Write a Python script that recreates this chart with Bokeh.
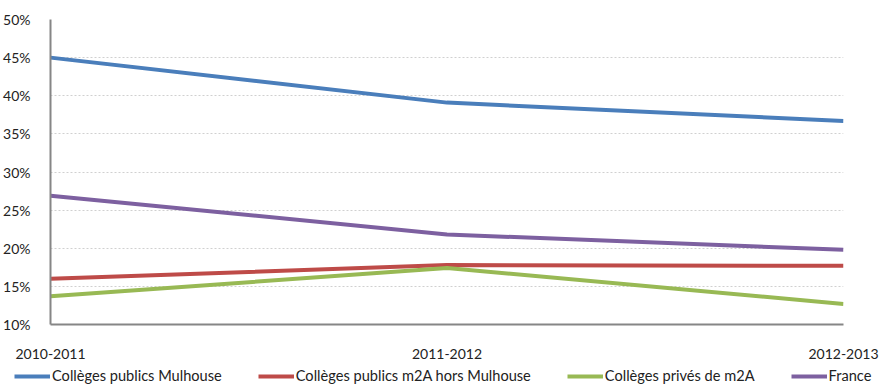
from bokeh.plotting import figure
from bokeh.models import ColumnDataSource, Legend, LegendItem, FixedTicker, Range1d
from bokeh.embed import file_html
from bokeh.resources import INLINE

years = ["2010-2011", "2011-2012", "2012-2013"]
publics_mulhouse = [45.0, 39.1, 36.7]
publics_m2a = [16.0, 17.8, 17.7]
prives_m2a = [13.7, 17.4, 12.7]
france = [26.9, 21.8, 19.8]
series_names = ["Collèges publics Mulhouse", "Collèges publics m2A hors Mulhouse",
                "Collèges privés de m2A", "France"]
y_ticks = [10, 15, 20, 25, 30, 35, 40, 45, 50]

FONT = "Lato"
colors = ["#4A7EBB", "#BE4B48", "#98B954", "#7D60A0"]

p = figure(width=892, height=362, output_backend="svg", toolbar_location=None,
           min_border_left=49, min_border_right=49, min_border_top=19, min_border_bottom=38)
p.x_range = Range1d(0, 2)
p.y_range = Range1d(10, 50)
p.outline_line_color = None

xs = list(range(len(years)))
for name, vals, c in zip(series_names, [publics_mulhouse, publics_m2a, prives_m2a, france], colors):
    src = ColumnDataSource(dict(x=xs, y=vals))
    p.line("x", "y", source=src, line_color=c, line_width=4)

p.xaxis.ticker = FixedTicker(ticks=xs)
p.xaxis.major_label_overrides = {i: y for i, y in enumerate(years)}
p.yaxis.ticker = FixedTicker(ticks=y_ticks)
p.yaxis.major_label_overrides = {t: f"{t}%" for t in y_ticks}

for ax in (p.xaxis[0], p.yaxis[0]):
    ax.axis_line_color = "#868686"
    ax.axis_line_width = 2
    ax.major_tick_line_color = None
    ax.minor_tick_line_color = None
    ax.major_label_text_font = FONT
    ax.major_label_text_font_size = "14px"
    ax.major_label_text_color = "#222222"
p.xaxis.major_label_standoff = 18
p.yaxis.major_label_standoff = 14

p.xgrid.grid_line_color = None
p.ygrid.grid_line_color = "#D0D0D0"
p.ygrid.grid_line_dash = "2 2"
p.ygrid.grid_line_width = 1

# legend strip below the chart (series drawn out of view, legend only)
lf = figure(width=892, height=23, output_backend="svg", toolbar_location=None,
            x_axis_location=None, y_axis_location=None,
            min_border=0, min_border_left=0, min_border_right=0,
            min_border_top=0, min_border_bottom=0,
            x_range=Range1d(0, 1), y_range=Range1d(0, 1))
lf.grid.visible = False
lf.outline_line_color = None
items = []
for name, vals, c in zip(series_names, [publics_mulhouse, publics_m2a, prives_m2a, france], colors):
    src = ColumnDataSource(dict(x=[x - 10 for x in xs], y=vals))
    r = lf.line("x", "y", source=src, line_color=c, line_width=4)
    items.append(LegendItem(label=name, renderers=[r]))
legend = Legend(items=items, orientation="horizontal", location=(14, 1),
                spacing=36, glyph_width=36, glyph_height=10, label_standoff=2,
                padding=0, margin=0, border_line_color=None, background_fill_alpha=0,
                label_text_font=FONT, label_text_font_size="14.6px",
                label_text_color="#222222", label_height=16)
lf.add_layout(legend, "center")

open("out.html", "w").write(file_html([p, lf], INLINE))
